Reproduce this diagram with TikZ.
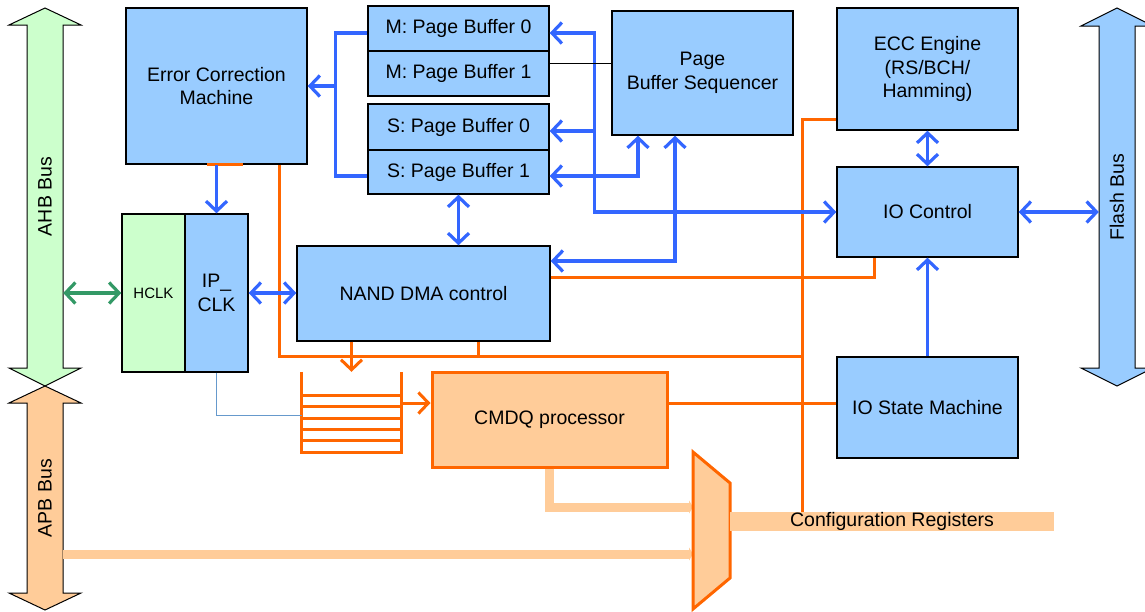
\documentclass[tikz,border=0pt]{standalone}
\usepackage{fontspec}
\setmainfont{Liberation Sans}
\usepackage{graphicx}
\usetikzlibrary{arrows.meta, calc}

\definecolor{boxblue}{HTML}{99CCFF}
\definecolor{boxgreen}{HTML}{CCFFCC}
\definecolor{linkblue}{HTML}{3366FF}
\definecolor{ctrlorange}{HTML}{FF6600}
\definecolor{paleorange}{HTML}{FFCC99}
\definecolor{clkgreen}{HTML}{339966}
\definecolor{thinblue}{HTML}{6699CC}

\newcommand{\bigfont}{\fontsize{19.5}{23.5}\selectfont}
\newcommand{\smallfont}{\fontsize{15}{18}\selectfont}

\tikzset{
  block/.style  = {rectangle, draw, fill=boxblue, line width=1.4pt,
                   inner sep=0pt, align=center, font=\bigfont},
  blockG/.style = {block, fill=boxgreen},
  blockO/.style = {block, fill=paleorange, draw=ctrlorange, line width=3pt},
  bus/.style    = {draw, line width=1pt, line join=miter},
  buslabel/.style = {inner sep=0pt, minimum width=36pt, font=\bigfont},
  barb/.tip     = {Straight Barb[length=10pt, width=21pt]},
  bline/.style  = {line width=3.2pt, draw=linkblue},
  arrow/.style  = {bline, -barb},
  darrow/.style = {bline, barb-barb},
  oline/.style  = {line width=3pt, draw=ctrlorange},
  oarrow/.style = {oline, -barb},
  pipe/.style   = {line width=9pt, draw=paleorange, -{Triangle[length=4pt, width=13pt]}},
}

\begin{document}
\begin{tikzpicture}[x=1pt, y=-1pt]
    \useasboundingbox (0,0) rectangle (1145,611);

    %% Buses
    \draw[bus, fill=boxgreen]  (45,8) -- (81,25) -- (63,25) -- (63,368) -- (81,368) -- (45,386)
        -- (9,368) -- (27,368) -- (27,25) -- (9,25) -- cycle;
    \draw[bus, fill=paleorange] (45,386) -- (81,403) -- (63,403) -- (63,593) -- (81,593) -- (45,610)
        -- (9,593) -- (27,593) -- (27,403) -- (9,403) -- cycle;
    \draw[bus, fill=boxblue] (1117,8) -- (1153,26) -- (1135,26) -- (1135,368) -- (1153,368) -- (1117,386)
        -- (1081,368) -- (1099,368) -- (1099,26) -- (1081,26) -- cycle;
    \node[buslabel, minimum height=343pt] (ahb)   at (45,196.5)  {\rotatebox{90}{AHB Bus}};
    \node[buslabel, minimum height=190pt] (apb)   at (45,498)    {\rotatebox{90}{APB Bus}};
    \node[buslabel, minimum height=342pt] (flash) at (1117,197)  {\rotatebox{90}{Flash Bus}};

    %% Blocks
    \node[block, minimum width=181pt, minimum height=156pt] (ecm)  at (216.5,86)   {Error Correction\\Machine};
    \node[blockG, minimum width=63pt, minimum height=158pt, font=\smallfont] (hclk) at (153.5,293) {HCLK};
    \node[block, minimum width=63pt,  minimum height=158pt] (ipclk) at (216.5,293) {IP\_\\CLK};
    \node[block, minimum width=253pt, minimum height=95pt]  (dma)  at (423.5,293.5) {NAND DMA control};

    \node[block, minimum width=181pt, minimum height=45pt] (mpb0) at (458.5,28.5)  {M: Page Buffer 0};
    \node[block, minimum width=181pt, minimum height=45pt] (mpb1) at (458.5,73.5)  {M: Page Buffer 1};
    \node[block, minimum width=181pt, minimum height=46pt] (spb0) at (458.5,127)   {S: Page Buffer 0};
    \node[block, minimum width=181pt, minimum height=44pt] (spb1) at (458.5,172)   {S: Page Buffer 1};

    \node[block, minimum width=181pt, minimum height=124pt] (pbs) at (702.5,73)  {Page\\Buffer Sequencer};
    \node[block, minimum width=181pt, minimum height=122pt] (ecc) at (927.5,69)  {ECC Engine\\(RS/BCH/\\Hamming)};
    \node[block, minimum width=181pt, minimum height=90pt]  (ioc) at (927.5,212) {IO Control};
    \node[block, minimum width=181pt, minimum height=101pt] (ism) at (927.5,407.5) {IO State Machine};

    \node[blockO, minimum width=235pt, minimum height=95pt] (cmdq) at (549.5,419.5) {CMDQ processor};

    %% Command FIFO
    \node[minimum width=99pt, minimum height=80pt, inner sep=0pt] (fifo) at (351.5,412) {};

    %% Control lines (orange)
    \coordinate (ctl) at (802,356);
    \draw[oline] ([xshift=-9.5pt]ecm.south) -- ([xshift=26.5pt]ecm.south);
    \draw[oline] ([xshift=62.5pt]ecm.south) |- (ctl);
    \draw[oline] ([xshift=54.5pt]dma.south) -- ([xshift=54.5pt]dma.south |- ctl);
    \draw[oarrow] (fifo.north |- dma.south) -- (fifo.north);
    \draw[oline] ([yshift=16.5pt]dma.east) -| ([xshift=-53.5pt]ioc.south);
    \draw[oarrow] ([yshift=9pt]fifo.east) -- ([yshift=9pt]fifo.east -| cmdq.west);
    \draw[oline] ([yshift=16.5pt]cmdq.east) -- ([yshift=16.5pt]cmdq.east -| ism.west);

    \draw[oline] (fifo.north west) -- (fifo.south west) -- (fifo.south east) -- (fifo.north east);
    \foreach \y in {395,406,418,429,440}
        \draw[oline] (fifo.west |- 0,\y) -- (fifo.east |- 0,\y);

    %% Register path into the mux
    \coordinate (muxA) at (693,507);
    \coordinate (muxB) at (693,554);
    \draw[pipe] (cmdq.south) |- (muxA);
    \draw[pipe] (muxB -| apb.east) -- (muxB);
    \draw[line width=3pt, draw=ctrlorange, fill=paleorange, line join=miter]
        (693,452) -- (730,483) -- (730,578) -- (693,609) -- cycle;
    \node[rectangle, fill=paleorange, minimum width=324pt, minimum height=19pt, inner sep=0pt,
          text height=13.5pt, text depth=3.5pt, font=\bigfont] (cfg) at (892,521.5) {Configuration Registers};
    \draw[oline] ([yshift=-50pt]ecc.west) -| (ctl |- cfg.north);

    %% Data paths (blue)
    \draw[arrow]  (ecm.south) -- (ipclk.north);
    \draw[darrow] (ipclk.east) -- (ipclk.east -| dma.west);
    \draw[darrow, draw=clkgreen] (hclk.west -| ahb.east) -- (hclk.west);
    \draw[bline]  ([yshift=-4.5pt]mpb0.west) -- ++(-32,0) |- ([yshift=-4pt]spb1.west);
    \draw[arrow]  ([xshift=29pt]ecm.east) -- (ecm.east);
    \draw[darrow] (spb1.south) -- (spb1.south |- dma.north);
    \draw[darrow] ([yshift=-4.5pt]mpb0.east) -| ([xshift=-242pt]ioc.west) -- (ioc.west);
    \draw[arrow]  ([yshift=-4pt, xshift=46pt]spb0.east) -- ([yshift=-4pt]spb0.east);
    \draw[darrow] ([yshift=-4pt]spb1.east) -| ([xshift=-64.5pt]pbs.south);
    \draw[darrow] ([yshift=32.5pt]dma.east) -| ([xshift=-27.5pt]pbs.south);
    \draw[darrow] (ecc.south) -- (ioc.north);
    \draw[darrow] (ioc.east) -- (ioc.east -| flash.west);
    \draw[arrow]  (ism.north) -- (ioc.south);
    \draw[line width=0.7pt] ([yshift=10.5pt]mpb1.east) -- ([yshift=10.5pt]mpb1.east -| pbs.west);
    \draw[thinblue, line width=1pt] (ipclk.south) |- ([yshift=-3pt]fifo.west);

\end{tikzpicture}
\end{document}
